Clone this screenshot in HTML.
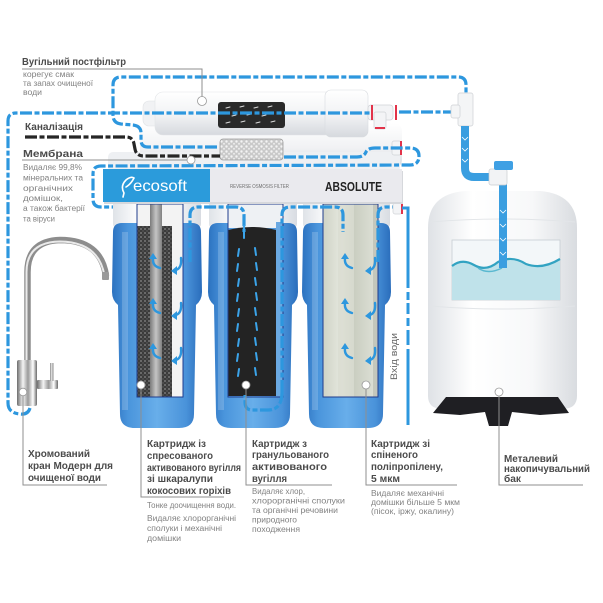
<!DOCTYPE html>
<html><head><meta charset="utf-8"><style>
html,body{margin:0;padding:0;background:#fff;}
svg{display:block;}
text{font-family:"Liberation Sans","DejaVu Sans",sans-serif;}
.b{font-weight:bold;font-size:10.5px;fill:#4b4b4b;}
.s{font-size:8px;fill:#828282;}
.bl{fill:none;stroke:#2d97de;stroke-width:3.2;stroke-dasharray:12 2.5 5 2.5;}
.pl{fill:none;stroke:#8f8f8f;stroke-width:1;}
.pc{fill:#fff;stroke:#9a9a9a;stroke-width:0.8;}
.ar{fill:none;stroke:#2d97de;stroke-width:2.4;stroke-linecap:round;}
.ah{fill:#2d97de;}
</style></head><body>
<svg width="603" height="603" viewBox="0 0 603 603" xmlns="http://www.w3.org/2000/svg">
<defs>
<linearGradient id="hb" x1="0" x2="1" y1="0" y2="0">
<stop offset="0" stop-color="#2c72c0"/><stop offset="0.18" stop-color="#4a95dc"/><stop offset="0.5" stop-color="#68aeea"/><stop offset="0.82" stop-color="#4a93da"/><stop offset="1" stop-color="#2a6dbb"/>
</linearGradient>
<linearGradient id="pf" x1="0" x2="0" y1="0" y2="1">
<stop offset="0" stop-color="#ffffff"/><stop offset="0.55" stop-color="#f1f2f4"/><stop offset="1" stop-color="#d6d9de"/>
</linearGradient>
<linearGradient id="tk" x1="0" x2="1" y1="0" y2="0">
<stop offset="0" stop-color="#dfe2e6"/><stop offset="0.3" stop-color="#ffffff"/><stop offset="0.7" stop-color="#f7f8f9"/><stop offset="1" stop-color="#d9dce0"/>
</linearGradient>
<linearGradient id="ch" x1="0" x2="1" y1="0" y2="0">
<stop offset="0" stop-color="#6d6d6d"/><stop offset="0.3" stop-color="#f4f4f4"/><stop offset="0.55" stop-color="#9a9a9a"/><stop offset="0.8" stop-color="#ffffff"/><stop offset="1" stop-color="#6a6a6a"/>
</linearGradient>
<linearGradient id="core" x1="0" x2="1" y1="0" y2="0">
<stop offset="0" stop-color="#7b7b7b"/><stop offset="0.5" stop-color="#c4c4c4"/><stop offset="1" stop-color="#808080"/>
</linearGradient>
<linearGradient id="pp" x1="0" x2="1" y1="0" y2="0">
<stop offset="0" stop-color="#cfd3c6"/><stop offset="0.35" stop-color="#e6e8df"/><stop offset="0.55" stop-color="#c9cdc0"/><stop offset="1" stop-color="#dfe2d8"/>
</linearGradient>
<linearGradient id="col" x1="0" x2="1" y1="0" y2="0">
<stop offset="0" stop-color="#dfe3e8"/><stop offset="0.3" stop-color="#ffffff"/><stop offset="0.7" stop-color="#f6f7f9"/><stop offset="1" stop-color="#d8dce2"/>
</linearGradient>
<pattern id="mesh" width="4" height="4" patternUnits="userSpaceOnUse">
<rect width="4" height="4" fill="#3b3b3b"/><circle cx="1" cy="1" r="0.9" fill="#8a8a8a"/><circle cx="3" cy="3" r="0.7" fill="#626262"/>
</pattern>
<pattern id="rs" width="5" height="5" patternUnits="userSpaceOnUse">
<rect width="5" height="5" fill="#c9c9c9"/><circle cx="1.5" cy="1.5" r="1.2" fill="#f4f4f4"/><circle cx="4" cy="3.8" r="1" fill="#ececec"/>
</pattern>
</defs>

<rect width="603" height="603" fill="#fff"/>

<!-- membrane housing (behind) -->
<rect x="140" y="123" width="262" height="45" rx="8" fill="url(#pf)"/>
<rect x="108" y="152" width="292" height="20" rx="5" fill="#eef0f3"/>
<!-- postfilter -->
<rect x="143" y="101" width="22" height="25" rx="6" fill="#f1f2f4" stroke="#e0e2e5" stroke-width="0.6"/>
<rect x="155" y="92" width="178" height="43" rx="8" fill="url(#pf)" stroke="#e2e4e7" stroke-width="0.6"/>
<rect x="325" y="90" width="43" height="47" rx="6" fill="url(#pf)" stroke="#d8dbdf" stroke-width="0.6"/>
<rect x="218" y="102" width="67" height="26" rx="3" fill="#2a2a2a"/>
<g stroke="#dcdcdc" stroke-width="1" stroke-linecap="round">
<path d="M226 108 l4 -1 M240 107 l4 -1 M254 108 l4 -1 M268 107 l4 -1 M232 116 l4 -1 M247 115 l4 -1 M262 116 l4 -1 M226 123 l4 -1 M241 122 l4 -1 M256 123 l4 -1 M271 122 l4 -1"/>
</g>
<!-- elbow right of postfilter -->
<rect x="368" y="105" width="25" height="15" rx="3" fill="#f3f4f6" stroke="#cfd2d6" stroke-width="0.7"/>
<rect x="374" y="112" width="12" height="17" rx="2" fill="#f3f4f6" stroke="#cfd2d6" stroke-width="0.7"/>
<rect x="371" y="105" width="2" height="15" fill="#e2334a"/>
<rect x="395" y="105" width="2" height="15" fill="#e2334a"/>
<rect x="375" y="127" width="10" height="2" fill="#e2334a"/>
<!-- right fitting of membrane -->
<rect x="392" y="141" width="9" height="14" rx="2" fill="#f3f4f6" stroke="#cfd2d6" stroke-width="0.7"/>
<rect x="400" y="141" width="2" height="14" fill="#e2334a"/>
<!-- restrictor -->
<rect x="220" y="139" width="63" height="21" rx="3" fill="url(#rs)" stroke="#9b9b9b" stroke-width="0.8"/>

<!-- blue top & mid lines -->
<path class="bl" d="M217 147 L148 147 Q141 147 141 140 L141 133 Q141 126 133 125 L121 124 Q113 123 113 115 L113 85 Q113 77 121 77 L458 77 Q466 77 466 85 L466 95"/>
<path class="bl" d="M30 408 Q28 415 20 414 Q8 413 8 403 L8 121 Q8 113 16 113 L371 113"/>
<path class="bl" d="M399 112 L456 112"/>
<path fill="none" stroke="#262626" stroke-width="3.2" stroke-dasharray="12 2.5 5 2.5" d="M25 137 L126 137 Q133 137 134 144 L135 149 Q136 156 144 156 L220 156"/>
<path class="bl" d="M284 157 L357 157 Q364 157 366 152 Q368 148 375 148 L410 148 Q419 148 419 156 Q419 165 410 165 L101 166 Q93 166 93 174 L93 199 Q93 207 101 207 L149 207 Q155 207 155 213 L155 232"/>

<!-- tee top right -->
<rect x="458" y="93" width="15" height="33" rx="2" fill="#f4f5f6" stroke="#cdd0d4" stroke-width="0.7"/>
<rect x="451" y="105" width="9" height="13" rx="2" fill="#f4f5f6" stroke="#cdd0d4" stroke-width="0.7"/>
<!-- pipe to tank -->
<path d="M465 126 L465 168 Q465 177 474 177 L492 177" fill="none" stroke="#3a9ee0" stroke-width="8"/>
<path d="M462 137 l3 3 l3 -3 M462 148 l3 3 l3 -3 M462 159 l3 3 l3 -3" fill="none" stroke="#fff" stroke-width="0.8"/>

<!-- tank -->
<path d="M428 228 Q428 194 465 191 L540 191 Q577 194 577 228 L577 396 Q577 409 562 409 L443 409 Q428 409 428 396 Z" fill="url(#tk)"/>
<path d="M430 222 Q502 216 575 222 M430 306 Q502 312 575 306" fill="none" stroke="#e2e5e8" stroke-width="1"/>
<rect x="452" y="240" width="108" height="60" fill="#f3f7f9" stroke="#c6ced3" stroke-width="0.8"/>
<path d="M452 266 Q462 258 474 265 Q486 272 498 262 Q512 255 526 264 Q542 270 560 259 L560 300 L452 300 Z" fill="#bfe2ea"/>
<path d="M452 266 Q462 258 474 265 Q486 272 498 262 Q512 255 526 264 Q542 270 560 259" fill="none" stroke="#32a3c2" stroke-width="2.2"/>
<path d="M478 268 Q488 275 502 268" fill="none" stroke="#5ab8d0" stroke-width="1.5"/>
<rect x="499" y="183" width="8" height="85" fill="#3a9ee0"/>
<path d="M500 210 l3 3 l3 -3 M500 224 l3 3 l3 -3 M500 238 l3 3 l3 -3 M500 252 l3 3 l3 -3" fill="none" stroke="#fff" stroke-width="0.8"/>
<rect x="489" y="169" width="18" height="16" rx="2" fill="#f2f3f5" stroke="#c9ccd0" stroke-width="0.7"/>
<rect x="494" y="161" width="19" height="9" rx="2" fill="#3fa0e4"/>
<!-- stand -->
<path d="M446 397 L558 397 L569 413 L540 415 L512 412 L508 426 L489 426 L485 412 L460 415 L433 413 Z" fill="#1f1f23"/>

<!-- housings -->
<rect x="113" y="198" width="88" height="30" rx="4" fill="url(#col)"/>
<path d="M113 232 Q113 223 122 223 L192 223 Q201 223 201 232 L202 292 Q202 300 196 305 L194 414 Q194 428 179 428 L135 428 Q120 428 120 414 L118 305 Q112 300 112 292 Z" fill="url(#hb)"/>
<rect x="209" y="198" width="88" height="30" rx="4" fill="url(#col)"/>
<path d="M209 232 Q209 223 218 223 L288 223 Q297 223 297 232 L298 292 Q298 300 292 305 L290 414 Q290 428 275 428 L231 428 Q216 428 216 414 L214 305 Q208 300 208 292 Z" fill="url(#hb)"/>
<rect x="303" y="198" width="87" height="30" rx="4" fill="url(#col)"/>
<path d="M303 232 Q303 223 312 223 L381 223 Q390 223 390 232 L391 292 Q391 300 385 305 L383 414 Q383 428 368 428 L324 428 Q309 428 309 414 L307 305 Q302 300 302 292 Z" fill="url(#hb)"/>
<!-- highlight strips -->
<g fill="#ffffff" opacity="0.18">
<rect x="122" y="232" width="6" height="178"/><rect x="218" y="232" width="6" height="178"/><rect x="312" y="232" width="6" height="178"/>
</g>

<!-- cutaway 1 -->
<rect x="137" y="204" width="46" height="193" fill="#f3f3f3"/>
<rect x="137" y="226" width="13" height="171" fill="url(#mesh)"/>
<rect x="150" y="204" width="12" height="193" fill="url(#core)"/>
<rect x="162" y="226" width="10" height="171" fill="url(#mesh)"/>
<rect x="137" y="204" width="46" height="193" fill="none" stroke="#1f3c8c" stroke-width="1"/>
<!-- cutaway 2 -->
<rect x="228" y="204" width="55" height="24" fill="#eef1f4"/>
<rect x="276" y="222" width="7" height="175" fill="#6aa9e2"/>
<path d="M228 230 Q252 224 276 230 L276 396 L228 396 Z" fill="#232323"/>
<rect x="228" y="204" width="55" height="193" fill="none" stroke="#1f3c8c" stroke-width="1"/>
<!-- cutaway 3 -->
<rect x="323" y="204" width="55" height="193" fill="url(#pp)"/>
<rect x="338" y="204" width="16" height="193" fill="#d9dcd1" opacity="0.8"/>
<rect x="373" y="204" width="5" height="193" fill="#c4c7bc"/>
<rect x="323" y="204" width="55" height="193" fill="none" stroke="#1f3c8c" stroke-width="1"/>

<!-- in-cartridge flows -->
<path class="bl" d="M190 262 L190 215 Q190 207 198 207 L236 207 Q244 207 244 215 L244 232"/>
<path class="bl" d="M282 392 L282 215 Q282 207 290 207 L335 207 Q343 207 343 215 L343 232"/>
<path class="bl" d="M282 392 Q282 410 268 410 L252 410 Q245 410 245 402 L245 395"/>
<path class="bl" d="M378 262 L378 215 Q378 207 386 207 L396 207"/>
<!-- arrows cart1 & cart3 -->
<g>
<path class="ar" d="M160 268 Q152 266 153 258"/><path class="ah" d="M149 259 L153 253 L157 259 Z"/>
<path class="ar" d="M160 313 Q152 311 153 303"/><path class="ah" d="M149 304 L153 298 L157 304 Z"/>
<path class="ar" d="M160 358 Q152 356 153 348"/><path class="ah" d="M149 349 L153 343 L157 349 Z"/>
<path class="ar" d="M181 258 Q182 268 176 270"/><path class="ah" d="M177 266 L171 271 L177 275 Z"/>
<path class="ar" d="M181 303 Q182 313 176 315"/><path class="ah" d="M177 311 L171 316 L177 320 Z"/>
<path class="ar" d="M181 348 Q182 358 176 360"/><path class="ah" d="M177 356 L171 361 L177 365 Z"/>
<path class="ar" d="M352 268 Q344 266 345 258"/><path class="ah" d="M341 259 L345 253 L349 259 Z"/>
<path class="ar" d="M352 313 Q344 311 345 303"/><path class="ah" d="M341 304 L345 298 L349 304 Z"/>
<path class="ar" d="M352 358 Q344 356 345 348"/><path class="ah" d="M341 349 L345 343 L349 349 Z"/>
<path class="ar" d="M375 258 Q376 268 370 270"/><path class="ah" d="M371 266 L365 271 L371 275 Z"/>
<path class="ar" d="M375 303 Q376 313 370 315"/><path class="ah" d="M371 311 L365 316 L371 320 Z"/>
<path class="ar" d="M375 348 Q376 358 370 360"/><path class="ah" d="M371 356 L365 361 L371 365 Z"/>
</g>
<!-- arrows cart2 -->
<g stroke="#3ba4ea" stroke-width="2" stroke-linecap="round">
<path d="M244 226 L244 238"/>
<path d="M238 256 l1 -7 M256 255 l-1 -7 M237 271 l1 -7 M257 270 l-1 -7 M238 286 l1 -7 M256 285 l-1 -7 M237 301 l1 -7 M257 300 l-1 -7 M238 316 l1 -7 M256 315 l-1 -7 M237 331 l1 -7 M257 330 l-1 -7 M238 346 l1 -7 M256 345 l-1 -7 M237 361 l1 -7 M257 360 l-1 -7 M238 376 l1 -7 M256 375 l-1 -7"/>
</g>

<!-- inlet line -->
<rect x="393" y="203" width="9" height="11" rx="2" fill="#f3f4f6" stroke="#cfd2d6" stroke-width="0.7"/>
<rect x="401" y="203" width="2" height="11" fill="#e2334a"/>
<path d="M402 208 L408 208 L408 288 M408 292 L408 300 M408 303 L408 314 M408 318 L408 326 M408 330 L408 345 M408 349 L408 425" fill="none" stroke="#2d97de" stroke-width="3"/>
<text x="0" y="0" transform="translate(397,380) rotate(-90)" font-size="9" fill="#666" textLength="47" lengthAdjust="spacingAndGlyphs">Вхід води</text>

<!-- header box -->
<rect x="104" y="171" width="299" height="33" fill="#d6d8dc"/>
<rect x="103" y="169" width="299" height="33" fill="#eaeaee"/>
<rect x="103" y="169" width="107" height="33" fill="#2b9bdb"/>
<path d="M124 193 Q120 186 126 180 Q131 176 134 178 Q131 184 126 187 M124 193 L123 197" fill="none" stroke="#fff" stroke-width="1.6" stroke-linecap="round"/>
<text x="133" y="191" font-size="16" fill="#fff" textLength="54" lengthAdjust="spacingAndGlyphs">ecosoft</text>
<text x="230" y="188" font-size="5.5" fill="#6e6e6e" textLength="59" lengthAdjust="spacingAndGlyphs">REVERSE OSMOSIS FILTER</text>
<text x="325" y="191" font-size="13" font-weight="bold" fill="#222" textLength="57" lengthAdjust="spacingAndGlyphs">ABSOLUTE</text>

<!-- faucet -->
<path d="M27.5 362 L27.5 272 Q27.5 241 60 240 Q101 240 106 276" fill="none" stroke="#8d8d8d" stroke-width="6.5"/>
<path d="M26.5 362 L26.5 272 Q26.5 242 60 241.5 Q99 242 104.5 276" fill="none" stroke="#eaeaea" stroke-width="2"/>
<rect x="102" y="272" width="7" height="8" rx="1" fill="#9a9a9a"/>
<rect x="37" y="380" width="21" height="9" rx="1" fill="url(#ch)"/>
<rect x="50" y="363" width="4" height="18" fill="url(#ch)"/>
<rect x="17" y="360" width="20" height="46" rx="2" fill="url(#ch)"/>

<!-- pointer lines & circles -->
<path class="pl" d="M22 69 L202 69 L202 97"/>
<path class="pl" d="M22 160 L187 160"/>
<path class="pl" d="M23 396 L23 485 L107 485"/>
<path class="pl" d="M141 389 L141 497 L224 497"/>
<path class="pl" d="M246 389 L246 485 L332 485"/>
<path class="pl" d="M366 389 L366 485 L457 485"/>
<path class="pl" d="M499 396 L499 485 L583 485"/>
<circle class="pc" cx="202" cy="101" r="4.5"/>
<circle class="pc" cx="191" cy="160" r="4"/>
<circle class="pc" cx="23" cy="392" r="3.8"/>
<circle class="pc" cx="141" cy="385" r="4"/>
<circle class="pc" cx="246" cy="385" r="4"/>
<circle class="pc" cx="366" cy="385" r="4"/>
<circle class="pc" cx="499" cy="392" r="4"/>

<!-- top-left labels -->
<text class="b" x="22" y="65" font-size="11" textLength="104" lengthAdjust="spacingAndGlyphs">Вугільний постфільтр</text>
<text class="s" x="23" y="77" textLength="51" lengthAdjust="spacingAndGlyphs">корегує смак</text>
<text class="s" x="23" y="86" textLength="70" lengthAdjust="spacingAndGlyphs">та запах очищеної</text>
<text class="s" x="23" y="95" textLength="19" lengthAdjust="spacingAndGlyphs">води</text>
<text class="b" x="25" y="130" textLength="58" lengthAdjust="spacingAndGlyphs">Каналізація</text>
<text class="b" x="23" y="157" textLength="60" lengthAdjust="spacingAndGlyphs">Мембрана</text>
<text class="s" x="23" y="170" textLength="59" lengthAdjust="spacingAndGlyphs">Видаляє 99,8%</text>
<text class="s" x="23" y="180.5" textLength="60" lengthAdjust="spacingAndGlyphs">мінеральних та</text>
<text class="s" x="23" y="191" textLength="50" lengthAdjust="spacingAndGlyphs">органічних</text>
<text class="s" x="23" y="201" textLength="40" lengthAdjust="spacingAndGlyphs">домішок,</text>
<text class="s" x="23" y="211" textLength="62" lengthAdjust="spacingAndGlyphs">а також бактерії</text>
<text class="s" x="23" y="221.5" textLength="32" lengthAdjust="spacingAndGlyphs">та віруси</text>

<!-- faucet label -->
<text class="b" x="28" y="457" textLength="62" lengthAdjust="spacingAndGlyphs">Хромований</text>
<text class="b" x="28" y="469" textLength="85" lengthAdjust="spacingAndGlyphs">кран Модерн для</text>
<text class="b" x="28" y="481" textLength="73" lengthAdjust="spacingAndGlyphs">очищеної води</text>

<!-- cart1 label -->
<text class="b" x="147" y="447" textLength="59" lengthAdjust="spacingAndGlyphs">Картридж із</text>
<text class="b" x="147" y="459" textLength="66" lengthAdjust="spacingAndGlyphs">спресованого</text>
<text class="b" x="147" y="471" textLength="94" lengthAdjust="spacingAndGlyphs">активованого вугілля</text>
<text class="b" x="147" y="482" textLength="66" lengthAdjust="spacingAndGlyphs">зі шкаралупи</text>
<text class="b" x="147" y="494" textLength="84" lengthAdjust="spacingAndGlyphs">кокосових горіхів</text>
<text class="s" x="147" y="508" textLength="89" lengthAdjust="spacingAndGlyphs">Тонке доочищення води.</text>
<text class="s" x="147" y="521" textLength="89" lengthAdjust="spacingAndGlyphs">Видаляє хлорорганічні</text>
<text class="s" x="147" y="531" textLength="75" lengthAdjust="spacingAndGlyphs">сполуки і механічні</text>
<text class="s" x="147" y="541" textLength="34" lengthAdjust="spacingAndGlyphs">домішки</text>

<!-- cart2 label -->
<text class="b" x="252" y="447" textLength="55" lengthAdjust="spacingAndGlyphs">Картридж з</text>
<text class="b" x="252" y="458" textLength="77" lengthAdjust="spacingAndGlyphs">гранульованого</text>
<text class="b" x="252" y="470" textLength="75" lengthAdjust="spacingAndGlyphs">активованого</text>
<text class="b" x="252" y="482" textLength="35" lengthAdjust="spacingAndGlyphs">вугілля</text>
<text class="s" x="252" y="494" textLength="53" lengthAdjust="spacingAndGlyphs">Видаляє хлор,</text>
<text class="s" x="252" y="503.5" textLength="93" lengthAdjust="spacingAndGlyphs">хлорорганічні сполуки</text>
<text class="s" x="252" y="513" textLength="86" lengthAdjust="spacingAndGlyphs">та органічні речовини</text>
<text class="s" x="252" y="522.5" textLength="45" lengthAdjust="spacingAndGlyphs">природного</text>
<text class="s" x="252" y="532" textLength="48" lengthAdjust="spacingAndGlyphs">походження</text>

<!-- cart3 label -->
<text class="b" x="371" y="447" textLength="59" lengthAdjust="spacingAndGlyphs">Картридж зі</text>
<text class="b" x="371" y="458" textLength="47" lengthAdjust="spacingAndGlyphs">спіненого</text>
<text class="b" x="371" y="470" textLength="72" lengthAdjust="spacingAndGlyphs">поліпропілену,</text>
<text class="b" x="371" y="482" textLength="29" lengthAdjust="spacingAndGlyphs">5 мкм</text>
<text class="s" x="371" y="496" textLength="73" lengthAdjust="spacingAndGlyphs">Видаляє механічні</text>
<text class="s" x="371" y="505" textLength="89" lengthAdjust="spacingAndGlyphs">домішки більше 5 мкм</text>
<text class="s" x="371" y="514" textLength="83" lengthAdjust="spacingAndGlyphs">(пісок, іржу, окалину)</text>

<!-- tank label -->
<text class="b" x="504" y="462" textLength="54" lengthAdjust="spacingAndGlyphs">Металевий</text>
<text class="b" x="504" y="472" textLength="86" lengthAdjust="spacingAndGlyphs">накопичувальний</text>
<text class="b" x="504" y="482" textLength="17" lengthAdjust="spacingAndGlyphs">бак</text>
</svg>
</body></html>
